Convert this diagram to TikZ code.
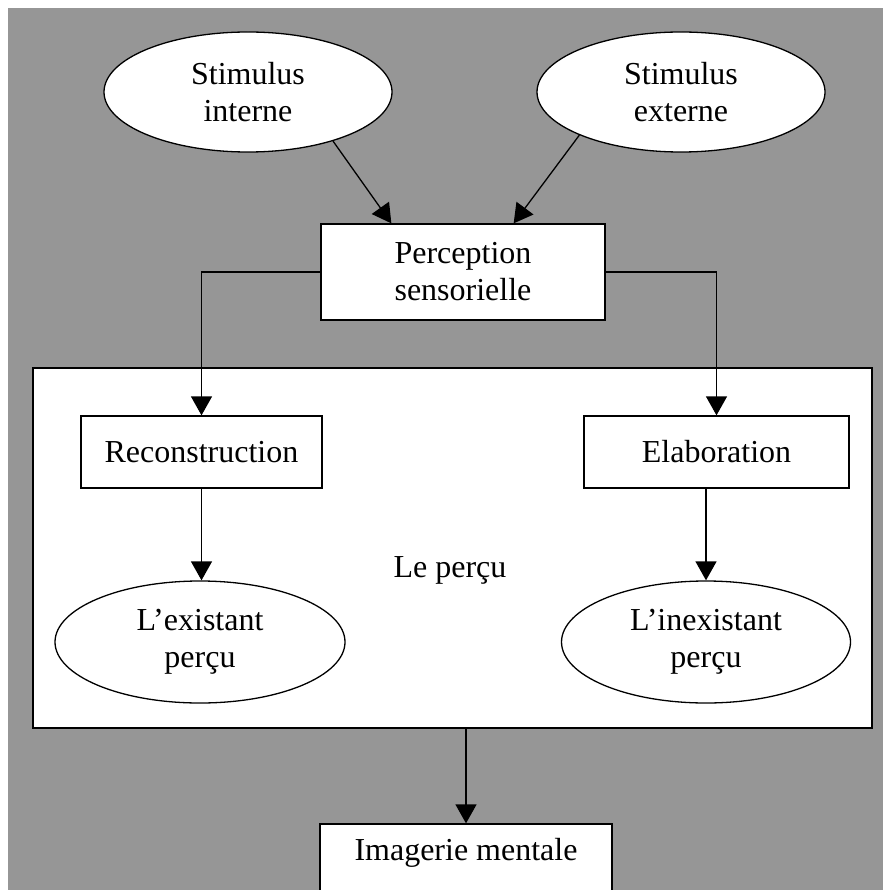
\documentclass[tikz,border=0pt]{standalone}
\usepackage{fontspec}
\setmainfont{Liberation Serif}
\usetikzlibrary{arrows.meta,shapes.geometric}
\definecolor{bggray}{RGB}{150,150,150}
\begin{document}
\begin{tikzpicture}[x=1pt,y=-1pt,
  every node/.style={font=\fontsize{32}{37}\selectfont, align=center, inner sep=0pt},
  rbox/.style={draw, fill=white, line width=1.3pt, rectangle},
  oval/.style={draw, fill=white, line width=1.3pt, ellipse},
  arr/.style={line width=1.3pt, -{Triangle[length=19pt,width=21pt]}},
  ln/.style={line width=1.3pt}]
\useasboundingbox (0,0) rectangle (883,890);
\clip (0,0) rectangle (883,890);
\fill[bggray] (8,8) rectangle (883,890);
% top ellipses
\node[oval, minimum width=288pt, minimum height=120pt] (si) at (248,92) {Stimulus\\interne};
\node[oval, minimum width=288pt, minimum height=120pt] (se) at (681,92) {Stimulus\\externe};
% perception
\node[rbox, minimum width=284pt, minimum height=96pt] (p) at (463,272) {Perception\\sensorielle};
% big box
\node[rbox, minimum width=839pt, minimum height=360pt] (lp) at (452.5,548) {};
\node (lpt) at (450,570) {Le perçu};
\node[rbox, minimum width=241pt, minimum height=72pt] (rc) at (201.5,452) {Reconstruction};
\node[rbox, minimum width=265pt, minimum height=72pt] (el) at (716.5,452) {Elaboration};
\node[oval, minimum width=290pt, minimum height=122pt] (ex) at (200,642) {L’existant\\perçu};
\node[oval, minimum width=289pt, minimum height=122pt] (ie) at (706,642) {L’inexistant\\perçu};
% imagerie
\node[rbox, minimum width=292pt, minimum height=92pt] (im) at (466,870) {};
\node (imt) at (466,853) {Imagerie mentale};
% targets on perception top
\path (p.north west) ++(71,0) coordinate (pin1);
\path (p.north east) ++(-92,0) coordinate (pin2);
% connectors
\draw[arr] (si.-30) -- (pin1);
\draw[arr] (se.-157) -- (pin2);
\draw[arr] (p.west) -| (rc.north);
\draw[arr] (p.east) -| (el.north);
\draw[arr] (rc.south) -- (rc.south |- ex.north);
\draw[arr] (el.south -| ie.north) -- (ie.north);
\draw[arr] (lp.south -| im.north) -- (im.north);
\end{tikzpicture}
\end{document}
